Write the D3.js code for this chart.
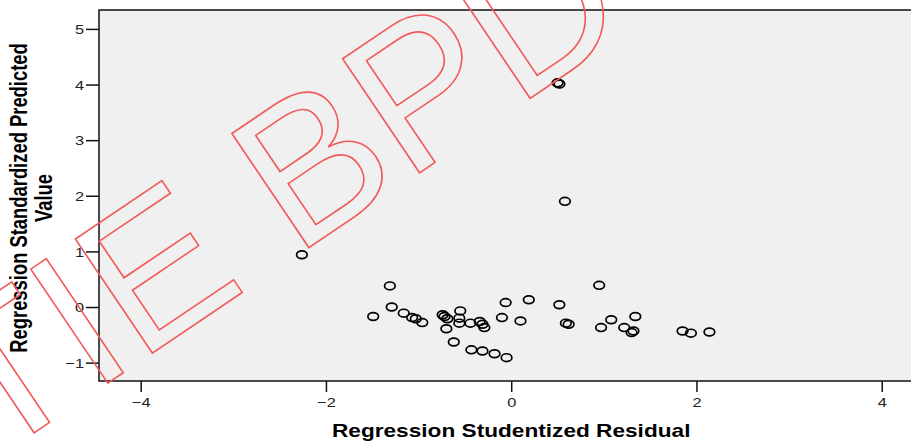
<!DOCTYPE html>
<html>
<head>
<meta charset="utf-8">
<script src="https://cdn.jsdelivr.net/npm/d3@7"></script>
<style>
  body { margin: 0; background: #fff; }
  svg { display: block; font-family: "Liberation Sans", Arial, sans-serif; }
</style>
</head>
<body>
<div id="chart"></div>
<script>
const residual = [-2.26, 0.50, 0.52, 0.58, -1.31, -1.49, -1.29, -1.16, -1.07, -1.03,
  -0.96, -0.74, -0.72, -0.69, -0.70, -0.55, -0.56, -0.56, -0.44, -0.34,
  -0.31, -0.29, -0.62, -0.43, -0.31, -0.18, -0.05, -0.10, -0.06, 0.10,
  0.19, 0.52, 0.59, 0.62, 0.95, 0.97, 1.08, 1.22, 1.34, 1.30,
  1.32, 1.85, 1.94, 2.14];
const predicted = [0.94, 4.03, 4.01, 1.90, 0.38, -0.17, 0.00, -0.11, -0.19, -0.21,
  -0.28, -0.14, -0.17, -0.21, -0.39, -0.07, -0.20, -0.29, -0.29, -0.26,
  -0.31, -0.37, -0.63, -0.77, -0.79, -0.84, -0.91, -0.19, 0.08, -0.25,
  0.13, 0.04, -0.29, -0.31, 0.39, -0.37, -0.23, -0.37, -0.17, -0.46,
  -0.43, -0.43, -0.47, -0.45];
const xTicks = [-4, -2, 0, 2, 4];
const yTicks = [-1, 0, 1, 2, 3, 4, 5];
const xTitle = "Regression Studentized Residual";
const yTitle = ["Regression Standardized Predicted", "Value"];
const watermark = "TIE BPD";

const W = 911, H = 442;
const plot = { left: 99, right: 916, top: 10, bottom: 381 };
const stretch = 1.26; // source picture is stretched horizontally

const svg = d3.select("#chart").append("svg")
  .attr("width", W)
  .attr("height", H);

const x = d3.scaleLinear().domain([-4.45, 4.37]).range([plot.left, plot.right]);
const y = d3.scaleLinear().domain([-1.33, 5.34]).range([plot.bottom, plot.top]);

// plot background
svg.append("rect")
  .attr("x", plot.left)
  .attr("y", plot.top)
  .attr("width", plot.right - plot.left)
  .attr("height", plot.bottom - plot.top)
  .attr("fill", "#f0f0f0")
  .attr("stroke", "#111")
  .attr("stroke-width", 1.5);

// y axis
const yAxis = svg.append("g")
  .attr("transform", `translate(${plot.left},0)`)
  .call(d3.axisLeft(y).tickValues(yTicks).tickSize(13).tickSizeOuter(0).tickFormat(d3.format("d")));
yAxis.select(".domain").remove();
yAxis.selectAll(".tick line").attr("stroke", "#111").attr("stroke-width", 1.5);
yAxis.selectAll(".tick text")
  .attr("x", null)
  .attr("dy", "0.36em")
  .attr("transform", `translate(-15,0) scale(${stretch},1)`)
  .attr("fill", "#222")
  .style("font-size", "13px")
  .style("font-family", "Liberation Sans, Arial, sans-serif");

// x axis
const xAxis = svg.append("g")
  .attr("transform", `translate(0,${plot.bottom})`)
  .call(d3.axisBottom(x).tickValues(xTicks).tickSize(11).tickSizeOuter(0).tickFormat(d3.format("d")));
xAxis.select(".domain").remove();
xAxis.selectAll(".tick line").attr("stroke", "#111").attr("stroke-width", 1.5);
xAxis.selectAll(".tick text")
  .attr("y", null)
  .attr("dy", null)
  .attr("transform", `translate(0,26) scale(${stretch},1)`)
  .attr("fill", "#222")
  .style("font-size", "13px")
  .style("font-family", "Liberation Sans, Arial, sans-serif");

// points
const points = residual.map((r, i) => ({ r, p: predicted[i] }));
svg.append("g")
  .selectAll("ellipse")
  .data(points)
  .join("ellipse")
  .attr("cx", d => x(d.r))
  .attr("cy", d => y(d.p))
  .attr("rx", 5.3)
  .attr("ry", 3.9)
  .attr("fill", "none")
  .attr("stroke", "#000")
  .attr("stroke-width", 1.7);

// axis titles
svg.append("text")
  .attr("transform", `translate(${(x(-4) + x(4)) / 2},436.5) scale(1.28,1)`)
  .attr("text-anchor", "middle")
  .style("font-size", "17.7px")
  .style("font-weight", "bold")
  .attr("fill", "#000")
  .text(xTitle);

const yt = svg.append("g")
  .attr("transform", `translate(0,198) scale(${stretch},1) rotate(-90)`);
yt.selectAll("text")
  .data(yTitle)
  .join("text")
  .attr("x", 0)
  .attr("y", (d, i) => 21.6 + i * 19.7)
  .attr("text-anchor", "middle")
  .style("font-size", "18.4px")
  .style("font-weight", "bold")
  .attr("fill", "#000")
  .text(d => d);

// watermark outline
svg.append("text")
  .attr("transform", "translate(-8.7,461.7) rotate(-34)")
  .style("font-size", "200px")
  .style("font-family", "Liberation Sans, Arial, sans-serif")
  .attr("fill", "none")
  .attr("stroke", "#f25a5a")
  .attr("stroke-width", 1.6)
  .text(watermark);
</script>
</body>
</html>
